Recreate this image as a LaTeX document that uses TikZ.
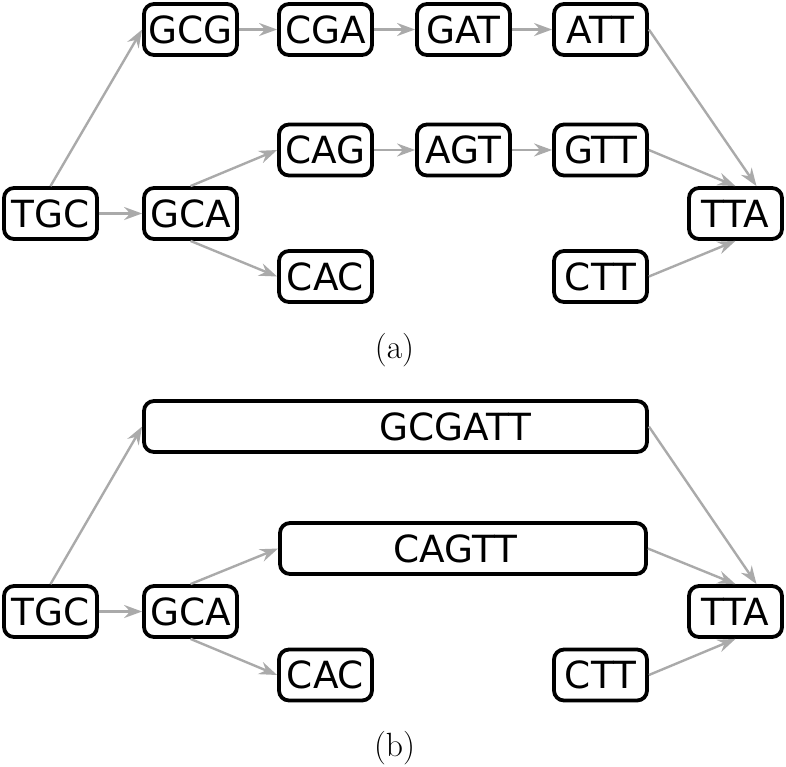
\documentclass[tikz,border=0pt]{standalone}
\usepackage{fontspec}
\newfontfamily\boxfont{DejaVu Sans}
\usetikzlibrary{arrows.meta}
\definecolor{edgegray}{RGB}{170,170,170}
\begin{document}
\begin{tikzpicture}[x=0.5pt,y=-0.5pt,
  kbox/.style={draw=black, line width=1.9pt, rounded corners=5pt, fill=white,
    minimum width=46.5pt, minimum height=25.5pt, inner sep=0pt,
    font=\boxfont\fontsize{18.7}{20}\selectfont},
  longbox/.style={draw=black, line width=1.9pt, rounded corners=5pt,
    minimum height=25.5pt, inner sep=0pt},
  btext/.style={inner sep=0pt, font=\boxfont\fontsize{18.7}{20}\selectfont},
  conn/.style={draw=edgegray, line width=1.2pt, -{Stealth[length=9pt,width=6.5pt,inset=3pt]}},
  sublabel/.style={font=\fontsize{16.8}{19}\selectfont}]
\useasboundingbox (0,0) rectangle (786,766);

% ---------- (a) ----------
\node[kbox] (tgcA) at (50.5,213.5) {TGC};
\node[kbox] (gcaA) at (190.5,213.5) {GCA};
\node[kbox] (gcgA) at (190.5,29.5) {GCG};
\node[kbox] (cgaA) at (325.5,29.5) {CGA};
\node[kbox] (gatA) at (463.5,29.5) {GAT};
\node[kbox] (attA) at (600.5,29.5) {ATT};
\node[kbox] (cagA) at (325.5,150) {CAG};
\node[kbox] (agtA) at (463.5,150) {AGT};
\node[kbox] (gttA) at (600.5,150) {GTT};
\node[kbox] (cacA) at (325.5,276.5) {CAC};
\node[kbox] (cttA) at (600.5,276.5) {CTT};
\node[kbox] (ttaA) at (735.5,213.5) {TTA};
\node[sublabel] (labA) at (394.5,350) {(a)};

\draw[conn] (tgcA.north) -- (gcgA.west);
\draw[conn] (tgcA.east) -- (gcaA.west);
\draw[conn] (gcgA.east) -- (cgaA.west);
\draw[conn] (cgaA.east) -- (gatA.west);
\draw[conn] (gatA.east) -- (attA.west);
\draw[conn] (gcaA.north) -- (cagA.west);
\draw[conn] (cagA.east) -- (agtA.west);
\draw[conn] (agtA.east) -- (gttA.west);
\draw[conn] (gcaA.south) -- (cacA.west);
\draw[conn] (attA.east) -- ([xshift=10.5pt]ttaA.north);
\draw[conn] (gttA.east) -- (ttaA.north);
\draw[conn] (cttA.east) -- (ttaA.south);

% ---------- (b) ----------
\node[kbox] (tgcB) at (50.5,611.5) {TGC};
\node[kbox] (gcaB) at (190.5,611.5) {GCA};
\node[longbox, minimum width=251.5pt] (gcgattB) at (395.5,426.5) {};
\node[btext] (gcgattT) at (455.5,426.5) {GCGATT};
\node[longbox, minimum width=183pt] (cagttB) at (463,548.5) {};
\node[btext] (cagttT) at (455.5,548.5) {CAGTT};
\node[kbox] (cacB) at (325.5,675) {CAC};
\node[kbox] (cttB) at (600.5,675) {CTT};
\node[kbox] (ttaB) at (735.5,611.5) {TTA};
\node[sublabel] (labB) at (394.5,748) {(b)};

\draw[conn] (tgcB.north) -- (gcgattB.west);
\draw[conn] (tgcB.east) -- (gcaB.west);
\draw[conn] (gcaB.north) -- (cagttB.west);
\draw[conn] (gcaB.south) -- (cacB.west);
\draw[conn] (gcgattB.east) -- ([xshift=10.5pt]ttaB.north);
\draw[conn] (cagttB.east) -- (ttaB.north);
\draw[conn] (cttB.east) -- (ttaB.south);
\end{tikzpicture}
\end{document}
